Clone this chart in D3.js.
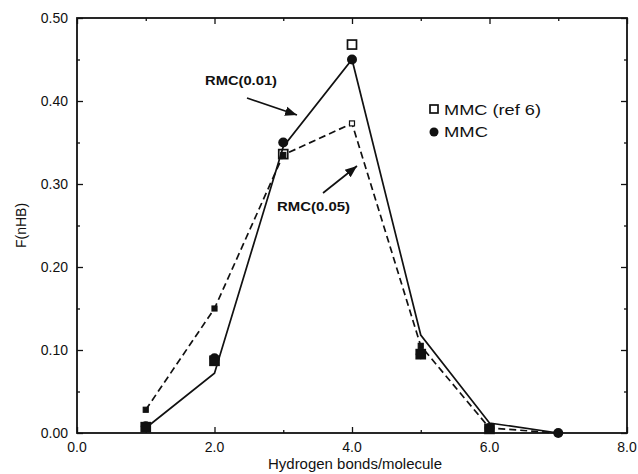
<!DOCTYPE html>
<html>
<head>
<meta http-equiv='Content-Type' content='text/html;charset=utf-8'/>
<title>F(nHB)</title>
<script src='https://d3js.org/d3.v7.min.js'></script>
<style>
body { margin: 0; background: #ffffff; }
text { font-family: 'Liberation Sans', Arial, sans-serif; fill: #111; }
</style>
</head>
<body>
<script>
'use strict'

// hydrogen bonds per molecule
const nhb = [1, 2, 3, 4, 5, 6, 7]
// RMC(0.01) solid line
const rmc001 = [0.006, 0.072, 0.345, 0.450, 0.118, 0.012, 0.000]
// RMC(0.05) dashed line
const rmc005 = [0.028, 0.150, 0.335, 0.373, 0.105, 0.006, 0.000]
// MMC (ref 6) open squares
const mmcRef6 = [0.007, 0.087, 0.336, 0.468, 0.095, 0.005]
// MMC filled circles
const mmc = [0.008, 0.090, 0.350, 0.450, 0.095, 0.006, 0.000]

const xTicks = [0, 2, 4, 6, 8]
const xMinor = [1, 3, 5, 7]
const yTicks = [0, 0.1, 0.2, 0.3, 0.4, 0.5]
const yMinor = [0.05, 0.15, 0.25, 0.35, 0.45]

const W = 638, H = 474
const margin = {top: 18, right: 10, bottom: 41, left: 77}

const svg = d3.select('body').append('svg')
	.attr('width', W)
	.attr('height', H)

const x = d3.scaleLinear().domain([0, 8]).range([margin.left, W - margin.right - 1])
const y = d3.scaleLinear().domain([0, 0.5]).range([H - margin.bottom, margin.top])

// frame
svg.append('rect')
	.attr('x', x(0)).attr('y', y(0.5))
	.attr('width', x(8) - x(0)).attr('height', y(0) - y(0.5))
	.attr('fill', 'none').attr('stroke', '#111').attr('stroke-width', 1.8)

// ticks pointing inward on all four sides
function ticks(axis, vals, len, tx, ty) {
	svg.append('g').attr('transform', `translate(${tx},${ty})`)
		.call(axis.tickValues(vals).tickSize(len).tickFormat(''))
		.call(g => g.select('.domain').remove())
		.call(g => g.selectAll('line').attr('stroke', '#111').attr('stroke-width', 1.3))
}
ticks(d3.axisTop(x), xTicks, 6, 0, y(0))
ticks(d3.axisTop(x), xMinor, 3, 0, y(0))
ticks(d3.axisBottom(x), xTicks, 6, 0, y(0.5))
ticks(d3.axisBottom(x), xMinor, 3, 0, y(0.5))
ticks(d3.axisRight(y), yTicks, 6, x(0), 0)
ticks(d3.axisRight(y), yMinor, 3, x(0), 0)
ticks(d3.axisLeft(y), yTicks, 6, x(8), 0)
ticks(d3.axisLeft(y), yMinor, 3, x(8), 0)

// tick labels
svg.append('g').selectAll('text').data(xTicks).join('text')
	.attr('x', d => x(d)).attr('y', y(0) + 19)
	.attr('text-anchor', 'middle').attr('font-size', 14)
	.text(d => d.toFixed(1))
svg.append('g').selectAll('text').data(yTicks).join('text')
	.attr('x', x(0) - 9).attr('y', d => y(d) + 5)
	.attr('text-anchor', 'end').attr('font-size', 14)
	.text(d => d.toFixed(2))

// axis titles
svg.append('text')
	.attr('x', 268).attr('y', 469)
	.attr('font-size', 14)
	.attr('textLength', 174).attr('lengthAdjust', 'spacingAndGlyphs')
	.text('Hydrogen bonds/molecule')
svg.append('text')
	.attr('transform', `translate(26,${(y(0) + y(0.5)) / 2}) rotate(-90)`)
	.attr('text-anchor', 'middle').attr('font-size', 14)
	.text('F(nHB)')

const line = d3.line()
	.x((d, i) => x(nhb[i]))
	.y(d => y(d))

svg.append('path')
	.attr('d', line(rmc001))
	.attr('fill', 'none').attr('stroke', '#111').attr('stroke-width', 1.7)
svg.append('path')
	.attr('d', line(rmc005))
	.attr('fill', 'none').attr('stroke', '#111').attr('stroke-width', 1.7)
	.attr('stroke-dasharray', '7,4')

// small markers on the dashed line
svg.append('g').selectAll('rect').data(rmc005).join('rect')
	.attr('x', (d, i) => x(nhb[i]) - 2.5).attr('y', d => y(d) - 2.5)
	.attr('width', 5).attr('height', 5)
	.attr('fill', (d, i) => i === 3 ? '#fff' : '#111')
	.attr('stroke', '#111').attr('stroke-width', 1.2)

// MMC filled circles
svg.append('g').selectAll('circle').data(mmc).join('circle')
	.attr('cx', (d, i) => x(nhb[i])).attr('cy', d => y(d))
	.attr('r', 5).attr('fill', '#111')

// MMC (ref 6) open squares (filled where they sit on a circle)
svg.append('g').selectAll('rect').data(mmcRef6).join('rect')
	.attr('x', (d, i) => x(nhb[i]) - 4.5).attr('y', d => y(d) - 4.5)
	.attr('width', 9).attr('height', 9)
	.attr('fill', (d, i) => i === 3 ? '#fff' : (i === 2 ? 'none' : '#111'))
	.attr('stroke', '#111').attr('stroke-width', 1.7)

// annotations
svg.append('defs').append('marker')
	.attr('id', 'arrow').attr('viewBox', '0 0 10 10')
	.attr('refX', 10).attr('refY', 5)
	.attr('markerWidth', 7).attr('markerHeight', 7)
	.attr('orient', 'auto')
	.append('path').attr('d', 'M0,1 L10,5 L0,9 Z').attr('fill', '#111')

svg.append('text')
	.attr('x', 205).attr('y', 85)
	.attr('font-size', 13).attr('font-weight', 'bold')
	.attr('textLength', 72).attr('lengthAdjust', 'spacingAndGlyphs')
	.text('RMC(0.01)')
svg.append('line')
	.attr('x1', 247).attr('y1', 98).attr('x2', 297).attr('y2', 115)
	.attr('stroke', '#111').attr('stroke-width', 1.7)
	.attr('marker-end', 'url(#arrow)')

svg.append('text')
	.attr('x', 277).attr('y', 211)
	.attr('font-size', 13).attr('font-weight', 'bold')
	.attr('textLength', 73).attr('lengthAdjust', 'spacingAndGlyphs')
	.text('RMC(0.05)')
svg.append('line')
	.attr('x1', 323).attr('y1', 193).attr('x2', 357).attr('y2', 166)
	.attr('stroke', '#111').attr('stroke-width', 1.7)
	.attr('marker-end', 'url(#arrow)')

// legend
const legend = svg.append('g')
legend.append('rect')
	.attr('x', 430).attr('y', 105).attr('width', 8).attr('height', 8)
	.attr('fill', '#fff').attr('stroke', '#111').attr('stroke-width', 1.7)
legend.append('text')
	.attr('x', 444).attr('y', 115).attr('font-size', 15)
	.attr('textLength', 97).attr('lengthAdjust', 'spacingAndGlyphs')
	.text('MMC (ref 6)')
legend.append('circle')
	.attr('cx', 434).attr('cy', 132).attr('r', 4.5).attr('fill', '#111')
legend.append('text')
	.attr('x', 444).attr('y', 137).attr('font-size', 15)
	.attr('textLength', 44).attr('lengthAdjust', 'spacingAndGlyphs')
	.text('MMC')
</script>
</body>
</html>
